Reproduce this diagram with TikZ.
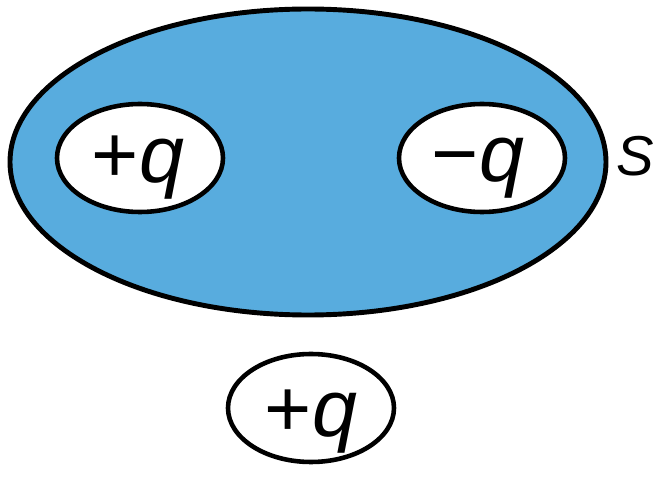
\documentclass[tikz,border=0pt]{standalone}
\usepackage{fontspec}
\setmainfont{Liberation Sans}
\usetikzlibrary{shapes.geometric}
\definecolor{surfblue}{RGB}{88,172,222}

\begin{document}
\begin{tikzpicture}[x=0.02cm,y=-0.02cm,
  charge/.style={ellipse, draw, line width=2.6pt, fill=white, inner sep=0pt,
    minimum width=166*0.02cm, minimum height=108*0.02cm},
  big/.style={font=\fontsize{46}{50}\selectfont}]
\useasboundingbox (0,0) rectangle (654,483);
\draw[line width=2.8pt, fill=surfblue] (308,162) ellipse [x radius=298, y radius=153];
\node[charge] (qa) at (140,158) {};
\node[charge] (qb) at (482,158) {};
\node[charge] (qc) at (311,408) {};
\node[big, anchor=base] (ta) at (138,183) {+\textit{q}};
\node[big, anchor=base] (tb) at (478,182) {−\textit{q}};
\node[big, anchor=base] (tc) at (311,437) {+\textit{q}};
\node[font=\fontsize{32}{36}\selectfont\itshape, anchor=base west, inner sep=0pt] (s) at (616,176) {S};
\end{tikzpicture}
\end{document}
